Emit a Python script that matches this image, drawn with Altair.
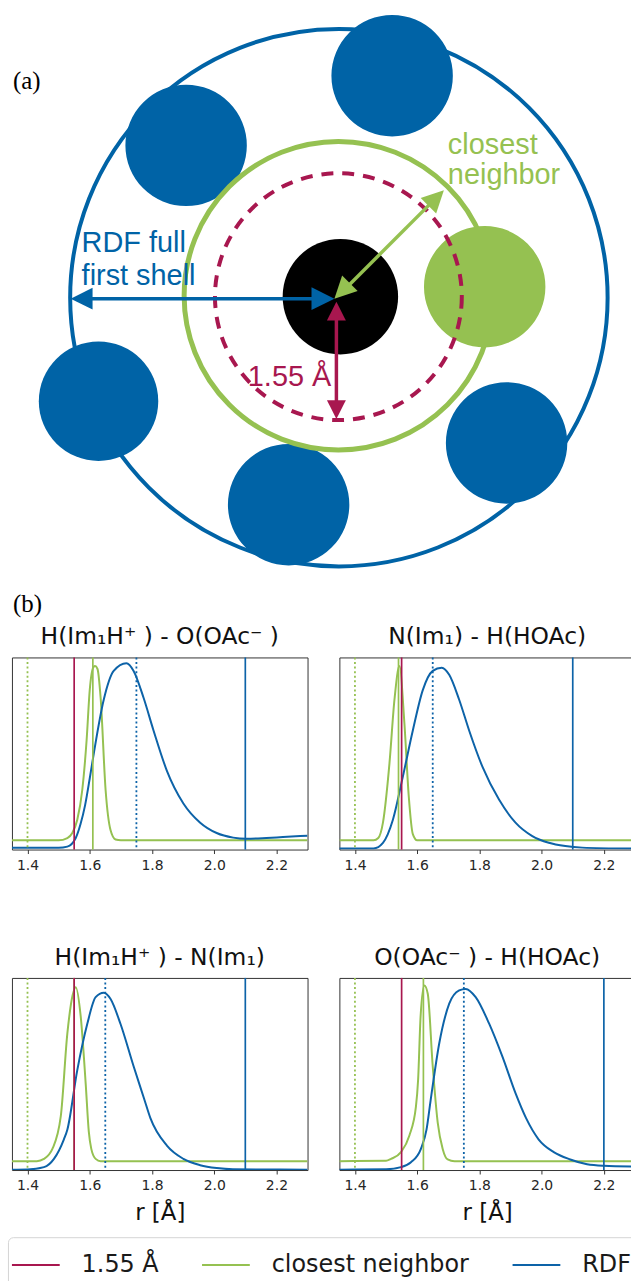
import altair as alt
import pandas as pd

# ---------------- (a) schematic ----------------
DISC_X = [186, 393, 98, 289, 508, 486, 341]
DISC_Y = [143, 73, 400, 504, 442, 285, 295]
DISC_R = [61, 61, 60, 61, 61, 61, 58]
DISC_KIND = ["blue", "blue", "blue", "blue", "blue", "green", "black"]

RING_X = [339.5, 339, 339]
RING_Y = [296, 294, 295]
RING_R = [270, 155, 124]
RING_KIND = ["blue", "green", "crimson"]

SHAFT_X = [84, 347, 337]
SHAFT_Y = [297, 286, 312]
SHAFT_X2 = [320, 434, 337]
SHAFT_Y2 = [297, 199, 405]
SHAFT_KIND = ["blue", "green", "crimson"]

HEAD_X = [70, 335, 445, 335, 337, 337]
HEAD_Y = [297, 297, 188, 297, 300, 418]
HEAD_ANGLE = [270, 90, 45, 225, 0, 180]
HEAD_LEN = [22, 23, 22, 22, 19, 19]
HEAD_KIND = ["blue", "blue", "green", "green", "crimson", "crimson"]

LABEL_TEXT = ["RDF full", "first shell", "closest", "neighbor", "1.55 Å"]
LABEL_X = [81, 81, 449, 449, 248]
LABEL_Y = [250, 283, 152, 182, 385]
LABEL_KIND = ["blue", "blue", "green", "green", "crimson"]

TAG_TEXT = ["(a)", "(b)"]
TAG_X = [12, 12]
TAG_Y = [86, 612]

KINDS = ["blue", "green", "crimson", "black"]
KIND_COLORS = ["#0063a6", "#95c151", "#a8174f", "#000000"]

# ---------------- (b) panels ----------------
SERIES = ["1.55 Å", "closest neighbor", "RDF"]
SERIES_COLORS = ["#a8174f", "#95c151", "#0d63a8"]

TITLES = ["H(Im₁H⁺ ) - O(OAc⁻ )", "N(Im₁) - H(HOAc)",
          "H(Im₁H⁺ ) - N(Im₁)", "O(OAc⁻ ) - H(HOAc)"]

TL_GREEN_R = [1.35, 1.50, 1.528, 1.544, 1.560, 1.576, 1.590, 1.600, 1.612, 1.617, 1.625, 1.635, 1.651, 1.667, 1.683, 1.70, 2.30]
TL_GREEN_Y = [0.048, 0.048, 0.06, 0.086, 0.155, 0.31, 0.57, 0.83, 0.95, 0.955, 0.94, 0.79, 0.31, 0.10, 0.052, 0.048, 0.048]
TL_BLUE_R = [1.35, 1.50, 1.528, 1.555, 1.57, 1.585, 1.60, 1.613, 1.645, 1.677, 1.718, 1.741, 1.773, 1.805, 1.848, 1.901, 1.955, 2.008, 2.061, 2.104, 2.168, 2.221, 2.30]
TL_BLUE_Y = [0.009, 0.009, 0.015, 0.06, 0.13, 0.23, 0.37, 0.50, 0.78, 0.93, 0.97, 0.93, 0.79, 0.62, 0.41, 0.24, 0.14, 0.086, 0.062, 0.056, 0.06, 0.065, 0.072]

TR_GREEN_R = [1.35, 1.46, 1.475, 1.49, 1.511, 1.527, 1.543, 1.559, 1.573, 1.586, 1.60, 2.30]
TR_GREEN_Y = [0.048, 0.048, 0.06, 0.14, 0.45, 0.78, 0.955, 0.656, 0.276, 0.08, 0.048, 0.048]
TR_BLUE_R = [1.35, 1.46, 1.49, 1.522, 1.554, 1.586, 1.618, 1.650, 1.679, 1.703, 1.735, 1.767, 1.81, 1.863, 1.916, 1.97, 2.023, 2.076, 2.13, 2.30]
TR_BLUE_Y = [0.005, 0.006, 0.035, 0.155, 0.38, 0.62, 0.83, 0.93, 0.947, 0.91, 0.78, 0.62, 0.43, 0.26, 0.14, 0.07, 0.035, 0.018, 0.01, 0.005]

BL_GREEN_R = [1.35, 1.43, 1.453, 1.48, 1.507, 1.528, 1.545, 1.555, 1.571, 1.587, 1.597, 1.605, 1.619, 1.635, 2.30]
BL_GREEN_Y = [0.046, 0.046, 0.058, 0.11, 0.28, 0.71, 0.91, 0.952, 0.80, 0.45, 0.20, 0.11, 0.058, 0.046, 0.046]
BL_BLUE_R = [1.35, 1.40, 1.453, 1.485, 1.517, 1.528, 1.56, 1.592, 1.619, 1.645, 1.667, 1.699, 1.741, 1.775, 1.795, 1.848, 1.901, 1.955, 2.008, 2.06, 2.30]
BL_BLUE_Y = [0.002, 0.003, 0.015, 0.058, 0.16, 0.21, 0.52, 0.76, 0.90, 0.923, 0.89, 0.76, 0.54, 0.37, 0.27, 0.127, 0.058, 0.025, 0.01, 0.004, 0.002]

BR_GREEN_R = [1.35, 1.50, 1.516, 1.548, 1.575, 1.596, 1.603, 1.611, 1.623, 1.634, 1.650, 1.666, 1.682, 1.698, 1.72, 2.30]
BR_GREEN_Y = [0.046, 0.048, 0.058, 0.093, 0.18, 0.33, 0.47, 0.80, 0.96, 0.918, 0.54, 0.247, 0.11, 0.055, 0.046, 0.046]
BR_BLUE_R = [1.35, 1.50, 1.548, 1.58, 1.612, 1.63, 1.643, 1.671, 1.703, 1.735, 1.756, 1.788, 1.831, 1.874, 1.916, 1.95, 1.99, 2.039, 2.092, 2.146, 2.2, 2.30]
BR_BLUE_Y = [0.002, 0.004, 0.015, 0.04, 0.11, 0.21, 0.36, 0.66, 0.866, 0.935, 0.943, 0.90, 0.763, 0.59, 0.40, 0.27, 0.16, 0.093, 0.055, 0.03, 0.022, 0.018]

VLINE_SERIES = ["closest neighbor", "closest neighbor", "RDF", "RDF", "1.55 Å"]
VLINE_STYLE = ["dotted", "solid", "dotted", "solid", "solid"]
TL_VLINE_R = [1.40, 1.61, 1.75, 2.10, 1.55]
TR_VLINE_R = [1.40, 1.54, 1.65, 2.10, 1.55]
BL_VLINE_R = [1.40, 1.55, 1.65, 2.10, 1.55]
BR_VLINE_R = [1.40, 1.62, 1.75, 2.20, 1.55]

X_TICKS = [1.4, 1.6, 1.8, 2.0, 2.2]
PX_PER_UNIT = 297 / 0.95
X_MIN = 1.35

# ---------------- build (a) ----------------
DW, DH = 620, 620
xs = alt.Scale(domain=[11, 631], nice=False, zero=False)
ys = alt.Scale(domain=[0, DH], nice=False, zero=False, reverse=True)
kind_fill = alt.Fill("kind:N", scale=alt.Scale(domain=KINDS, range=KIND_COLORS), legend=None)
kind_stroke = alt.Stroke("kind:N", scale=alt.Scale(domain=KINDS, range=KIND_COLORS), legend=None)

discs = pd.DataFrame({"x": DISC_X, "y": DISC_Y, "r": DISC_R, "kind": DISC_KIND})
rings = pd.DataFrame({"x": RING_X, "y": RING_Y, "r": RING_R, "kind": RING_KIND})
shafts = pd.DataFrame({"x": SHAFT_X, "y": SHAFT_Y, "x2": SHAFT_X2, "y2": SHAFT_Y2, "kind": SHAFT_KIND})
heads = pd.DataFrame({"x": HEAD_X, "y": HEAD_Y, "ang": HEAD_ANGLE, "len": HEAD_LEN, "kind": HEAD_KIND})
labels = pd.DataFrame({"x": LABEL_X, "y": LABEL_Y, "t": LABEL_TEXT, "kind": LABEL_KIND})
tags = pd.DataFrame({"x": TAG_X, "y": TAG_Y, "t": TAG_TEXT})

X = alt.X("x:Q", scale=xs, axis=None)
Y = alt.Y("y:Q", scale=ys, axis=None)


def ring_layer(cond, width, dash=None):
    kw = dict(shape="circle", filled=False, strokeWidth=width, opacity=1)
    if dash:
        kw["strokeDash"] = dash
    return alt.Chart(rings).transform_filter(cond).transform_calculate(
        sz="pow(2*datum.r, 2)").mark_point(**kw).encode(
        x=X, y=Y, size=alt.Size("sz:Q", scale=None, legend=None), stroke=kind_stroke)


def disc_layer(cond):
    return alt.Chart(discs).transform_filter(cond).transform_calculate(
        sz="pow(2*datum.r, 2)").mark_point(shape="circle", filled=True, opacity=1, strokeWidth=0).encode(
        x=X, y=Y, size=alt.Size("sz:Q", scale=None, legend=None), fill=kind_fill)


shaft_layer = alt.Chart(shafts).mark_rule(strokeWidth=3.5).encode(
    x=X, y=Y, x2="x2:Q", y2="y2:Q", stroke=kind_stroke)
head_layer = alt.Chart(heads).transform_calculate(sz="4*pow(datum.len, 2)").mark_point(
    shape="M0,0L0.5,1L-0.5,1Z", filled=True, opacity=1, strokeWidth=0).encode(
    x=X, y=Y, size=alt.Size("sz:Q", scale=None, legend=None),
    angle=alt.Angle("ang:Q", scale=None), fill=kind_fill)
label_layer = alt.Chart(labels).mark_text(align="left", baseline="alphabetic",
                                           font="Liberation Sans", fontSize=29).encode(
    x=X, y=Y, text="t:N", fill=kind_fill)
tag_layer = alt.Chart(tags).mark_text(align="left", baseline="alphabetic", font="Liberation Serif",
                                       fontSize=25, color="#000000").encode(x=X, y=Y, text="t:N")

diagram = alt.layer(
    ring_layer("datum.kind == 'blue'", 4), disc_layer("datum.kind == 'blue'"),
    ring_layer("datum.kind == 'green'", 5), disc_layer("datum.kind != 'blue'"),
    ring_layer("datum.kind == 'crimson'", 4, [12, 9]),
    shaft_layer, head_layer, label_layer, tag_layer
).properties(width=DW, height=DH, view=alt.ViewBackground(stroke=None))

# ---------------- build (b) ----------------
# a long horizontal stroke symbol with a small nominal size keeps the legend row short
LEG = alt.Legend(title=None, orient="none", legendX=-4, legendY=1240, direction="horizontal",
                 symbolType="M-2,0L2,0", symbolSize=576, symbolStrokeWidth=2,
                 labelFont="DejaVu Sans", labelFontSize=24, labelColor="#1a1a1a", labelOffset=33,
                 labelLimit=400, columnPadding=39, padding=15, strokeColor="#d5d5d5",
                 cornerRadius=5, fillColor="#ffffff")
COLOR = alt.Color("series:N", scale=alt.Scale(domain=SERIES, range=SERIES_COLORS), legend=LEG)
PH = 193
VIS_W = 297      # visible panel width
RIGHT_W = 330    # right-hand panels run past the page edge (cut like the original)


def panel(title, gr, gy, br, by, vr, show_title, width):
    green = pd.DataFrame({"r": gr, "v": gy, "series": "closest neighbor"})
    blue = pd.DataFrame({"r": br, "v": by, "series": "RDF"})
    vl = pd.DataFrame({"r": vr, "series": VLINE_SERIES, "style": VLINE_STYLE})
    ax = alt.Axis(values=X_TICKS, format=".1f", grid=False, domain=False, tickColor="#333333",
                  tickSize=4, tickWidth=1, labelFont="DejaVu Sans", labelFontSize=14,
                  labelColor="#262626", labelPadding=5, labelFlush=False,
                  titleFont="DejaVu Sans", titleFontSize=23, titleFontWeight="normal",
                  titleColor="#111111", titlePadding=9, titleX=VIS_W / 2, titleAlign="center")
    xs_ = alt.Scale(domain=[X_MIN, X_MIN + width / PX_PER_UNIT], nice=False, zero=False)
    if show_title:
        XE = alt.X("r:Q", scale=xs_, axis=ax, title="r [Å]")
    else:
        XE = alt.X("r:Q", scale=xs_, axis=ax, title=None)
    YE = alt.Y("v:Q", scale=alt.Scale(domain=[0, 1], nice=False, zero=False), axis=None)
    g = alt.Chart(green).mark_line(strokeWidth=2, interpolate="monotone", clip=True).encode(
        x=XE, y=YE, color=COLOR)
    b = alt.Chart(blue).mark_line(strokeWidth=2, interpolate="monotone", clip=True).encode(
        x=XE, y=YE, color=COLOR)
    vs = alt.Chart(vl).transform_filter("datum.style == 'solid'").mark_rule(strokeWidth=1.7).encode(
        x=XE, color=COLOR)
    vd = alt.Chart(vl).transform_filter("datum.style == 'dotted'").mark_rule(
        strokeWidth=1.8, strokeDash=[2, 2.6]).encode(x=XE, color=COLOR)
    return alt.layer(g, b, vs, vd).properties(
        width=width, height=PH,
        title=alt.TitleParams(title, font="DejaVu Sans", fontSize=23.5, fontWeight="normal",
                              color="#111111", offset=8, anchor="middle",
                              dx=-(width - VIS_W) / 2))


tl = panel(TITLES[0], TL_GREEN_R, TL_GREEN_Y, TL_BLUE_R, TL_BLUE_Y, TL_VLINE_R, False, VIS_W)
tr = panel(TITLES[1], TR_GREEN_R, TR_GREEN_Y, TR_BLUE_R, TR_BLUE_Y, TR_VLINE_R, False, RIGHT_W)
bl = panel(TITLES[2], BL_GREEN_R, BL_GREEN_Y, BL_BLUE_R, BL_BLUE_Y, BL_VLINE_R, True, VIS_W)
br = panel(TITLES[3], BR_GREEN_R, BR_GREEN_Y, BR_BLUE_R, BR_BLUE_Y, BR_VLINE_R, True, RIGHT_W)

rows = alt.vconcat(alt.hconcat(tl, tr, spacing=30), alt.hconcat(bl, br, spacing=30), spacing=72)

chart = alt.vconcat(diagram, rows, spacing=4.5).properties(
    padding={"left": 7, "top": 0, "right": -38, "bottom": 0}, background="white"
).configure_view(stroke="#333333", strokeWidth=1)

chart.save("out.html", embed_options={"renderer": "svg", "actions": False})
